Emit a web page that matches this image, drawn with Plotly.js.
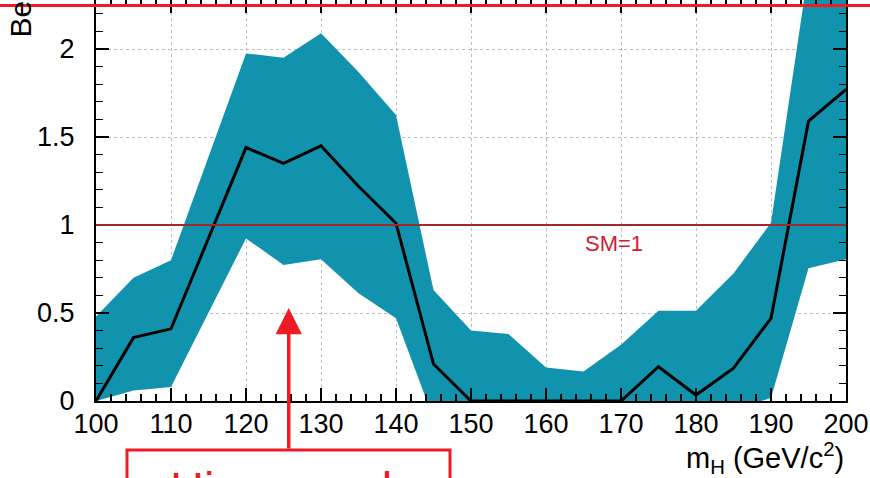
<!DOCTYPE html>
<html>
<head>
<meta charset="utf-8">
<script src="https://cdn.plot.ly/plotly-3.0.1.min.js"></script>
<style>html,body{margin:0;padding:0;background:#fff;}#chart{width:870px;height:478px;}</style>
</head>
<body>
<div id="chart"></div>
<script>
// Higgs mass points (GeV/c^2)
const massPoints = [100,105,110,115,120,125,130,135,140,145,150,155,160,165,170,175,180,185,190,195,200];
// best-fit signal strength (central line)
const bestFit   = [0.00,0.36,0.41,0.92,1.44,1.35,1.45,1.22,1.01,0.21,0.00,0.00,0.00,0.00,0.00,0.195,0.034,0.186,0.47,1.59,1.77];
// upper edge of the band
const bandUpper = [0.48,0.70,0.80,1.39,1.975,1.95,2.09,1.87,1.625,0.63,0.40,0.38,0.19,0.167,0.32,0.513,0.513,0.725,1.013,2.45,3.0];
// lower edge of the band
const bandLower = [0.00,0.06,0.08,0.50,0.924,0.773,0.805,0.612,0.47,-0.10,-0.10,-0.10,-0.10,-0.10,-0.10,-0.10,-0.10,-0.05,0.017,0.754,0.805];
const xTickVals = [100,110,120,130,140,150,160,170,180,190,200];
const yTickVals = [0,0.5,1,1.5,2];
const yTickText = ['0','0.5','1','1.5','2'];
const smValue = 1;
const smLabel = 'SM=1';
const xTitle = 'm<sub>H</sub> (GeV/c<sup>2</sup>)';
const yTitle = 'Best fit σ/σ<sub>SM</sub>';
const boxText = 'Higgs peak';
const arrowTarget = [125.7, 0.528];

const FONT = 'Liberation Sans, Arial, Helvetica, sans-serif';
const RED = '#ed1c24';

const bandX = massPoints.concat(massPoints.slice().reverse());
const bandY = bandUpper.concat(bandLower.slice().reverse());

const traces = [
  {x: bandX, y: bandY, type: 'scatter', mode: 'lines', fill: 'toself',
   fillcolor: '#1193ae', line: {width: 0, color: '#1193ae'}, hoverinfo: 'skip'},
  {x: massPoints, y: bestFit, type: 'scatter', mode: 'lines',
   line: {color: '#000', width: 3}, hoverinfo: 'skip'}
];

const L = 96, R = 24, T = 0, B = 77, W = 870, H = 478;
const pw = W - L - R, ph = H - T - B;
const px = v => (v - L) / pw;          // pixel x -> paper
const py = v => (H - B - v) / ph;      // pixel y -> paper

const layout = {
  width: W, height: H,
  margin: {l: L, r: R, t: T, b: B, pad: 0},
  paper_bgcolor: '#fff', plot_bgcolor: '#fff',
  showlegend: false,
  font: {family: FONT, color: '#000'},
  xaxis: {
    range: [100, 200], tickvals: xTickVals, ticktext: xTickVals.map(String),
    tickfont: {size: 27, family: FONT}, ticks: 'inside', ticklen: 13, tickwidth: 1.2, tickcolor: '#000',
    minor: {dtick: 2, ticks: 'inside', ticklen: 7, tickwidth: 1.2, tickcolor: '#000', showgrid: false},
    showline: true, linecolor: '#000', linewidth: 2, mirror: 'ticks',
    showgrid: true, gridcolor: '#bdbdbd', griddash: 'dot', gridwidth: 1,
    zeroline: false, ticklabelstandoff: -2, fixedrange: true
  },
  yaxis: {
    range: [0, 401/176], tickvals: yTickVals, ticktext: yTickText,
    tickfont: {size: 27, family: FONT}, ticks: 'inside', ticklen: 13, tickwidth: 1.2, tickcolor: '#000',
    minor: {dtick: 0.1, ticks: 'inside', ticklen: 7, tickwidth: 1.2, tickcolor: '#000', showgrid: false},
    showline: true, linecolor: '#000', linewidth: 2, mirror: 'ticks',
    showgrid: true, gridcolor: '#bdbdbd', griddash: 'dot', gridwidth: 1,
    zeroline: false, ticklabelstandoff: 14, fixedrange: true
  },
  shapes: [
    {type: 'line', xref: 'x', yref: 'y', x0: 100, x1: 200, y0: smValue, y1: smValue,
     line: {color: '#a3282c', width: 2}},
    {type: 'line', xref: 'paper', yref: 'paper', x0: px(0), x1: px(W), y0: py(5.5), y1: py(5.5),
     line: {color: RED, width: 3}},
    {type: 'rect', xref: 'paper', yref: 'paper', x0: px(127), x1: px(450), y0: py(450), y1: py(520),
     line: {color: RED, width: 3}, fillcolor: 'rgba(0,0,0,0)'}
  ],
  annotations: [
    {text: smLabel, xref: 'x', yref: 'y', x: 169, y: 0.895, showarrow: false,
     font: {size: 22, color: '#cc2030', family: FONT}, xanchor: 'center', yanchor: 'middle'},
    {text: xTitle, xref: 'paper', yref: 'paper', x: 1.0, y: py(458), showarrow: false,
     font: {size: 29, color: '#000', family: FONT}, xanchor: 'right', yanchor: 'middle'},
    {text: yTitle, xref: 'paper', yref: 'paper', x: px(22), y: py(40), showarrow: false, textangle: -90,
     font: {size: 30, color: '#000', family: FONT}, xanchor: 'center', yanchor: 'bottom'},
    {text: '', xref: 'x', yref: 'y', x: arrowTarget[0], y: arrowTarget[1], showarrow: true,
     ax: 0, ay: 142, axref: 'pixel', ayref: 'pixel', arrowcolor: RED, arrowwidth: 3.5, arrowhead: 2, arrowsize: 1.5, standoff: 0},
    {text: boxText, xref: 'paper', yref: 'paper', x: px(168), y: py(460), showarrow: false,
     font: {size: 47, color: RED, family: FONT}, xanchor: 'left', yanchor: 'top'}
  ]
};

Plotly.newPlot('chart', traces, layout, {staticPlot: true, displayModeBar: false});
</script>
</body>
</html>
